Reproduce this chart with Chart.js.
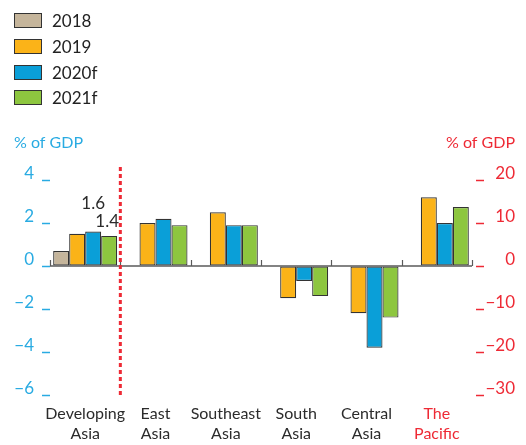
<!DOCTYPE html>
<html>
<head>
<meta charset="utf-8">
<script src="https://cdn.jsdelivr.net/npm/chart.js@4"></script>
<style>
  html, body { margin: 0; padding: 0; background: #ffffff; }
  #wrap { position: relative; width: 526px; height: 445px; }
  #legend { position: absolute; left: 14px; top: 8px; font-family: Lato, sans-serif; font-size: 17px; color: #222; }
  #legend .item { display: flex; align-items: center; height: 25.7px; }
  #legend .box { width: 28px; height: 15px; border: 1px solid #333; margin-right: 10px; box-sizing: border-box; }
</style>
</head>
<body>
<div id="wrap">
  <canvas id="c" width="526" height="445"></canvas>
  <div id="legend"></div>
</div>
<script>
// ---- data ----
const categories = [['Developing', 'Asia'], ['East', 'Asia'], ['Southeast', 'Asia'], ['South', 'Asia'], ['Central', 'Asia'], ['The', 'Pacific']];
const seriesNames = ['2018', '2019', '2020f', '2021f'];
// left axis (% of GDP), Asian subregions; null where not shown
const values2018 = [0.7, null, null, null, null, null];
const values2019 = [1.5, 2.0, 2.5, -1.5, -2.2, null];
const values2020 = [1.6, 2.2, 1.9, -0.7, -3.8, null];
const values2021 = [1.4, 1.9, 1.9, -1.4, -2.4, null];
// right axis (% of GDP), The Pacific
const pacific2019 = 16.0;
const pacific2020 = 10.0;
const pacific2021 = 13.7;
const leftTicks = [4, 2, 0, -2, -4, -6];
const rightTicks = [20, 10, 0, -10, -20, -30];
const annotated = [{ series: '2020f', index: 0, text: '1.6', dy: 28, dx: 0 }, { series: '2021f', index: 0, text: '1.4', dy: 14, dx: -2 }];

const colors = { '2018': '#c5b59b', '2019': '#fbb318', '2020f': '#0a9fd8', '2021f': '#8dc63f' };
const leftColor = '#29abe2';
const rightColor = '#ee2a35';
const textColor = '#2b2b2b';

const pacificOnly = v => categories.map((c, i) => i === categories.length - 1 ? v : null);

function ds(label, data, axis) {
  return {
    label: label, data: data, yAxisID: axis, stack: label,
    backgroundColor: colors[label], borderColor: '#333333', borderWidth: 1.2,
    borderSkipped: false
  };
}
const datasets = [
  ds('2018', values2018, 'y'),
  ds('2019', values2019, 'y'),
  ds('2020f', values2020, 'y'),
  ds('2021f', values2021, 'y'),
  ds('2019', pacificOnly(pacific2019), 'y2'),
  ds('2020f', pacificOnly(pacific2020), 'y2'),
  ds('2021f', pacificOnly(pacific2021), 'y2')
];

// HTML legend
const lg = document.getElementById('legend');
seriesNames.forEach(n => {
  const it = document.createElement('div'); it.className = 'item';
  const b = document.createElement('div'); b.className = 'box'; b.style.background = colors[n];
  const t = document.createElement('span'); t.textContent = n;
  it.appendChild(b); it.appendChild(t); lg.appendChild(it);
});

const extras = {
  id: 'extras',
  afterDatasetsDraw(chart) {
    const ctx = chart.ctx;
    const x = chart.scales.x, y = chart.scales.y;
    const ca = chart.chartArea;
    const y0 = y.getPixelForValue(0);
    ctx.save();
    // zero baseline
    ctx.strokeStyle = '#5a5a5a'; ctx.lineWidth = 1.5;
    ctx.beginPath(); ctx.moveTo(ca.left, y0); ctx.lineTo(ca.right, y0); ctx.stroke();
    // category boundary ticks
    ctx.lineWidth = 1.2;
    for (let i = 0; i <= categories.length; i++) {
      const px = Math.round(x.getPixelForValue(i - 0.5)) + 0.5;
      ctx.beginPath(); ctx.moveTo(px, y0); ctx.lineTo(px, y0 - 6); ctx.stroke();
    }
    // dashed divider between Developing Asia and the rest
    const dx = x.getPixelForValue(0.5);
    ctx.strokeStyle = '#ee2a35'; ctx.lineWidth = 3; ctx.setLineDash([4, 3]);
    ctx.beginPath(); ctx.moveTo(dx, y.getPixelForValue(4.6)); ctx.lineTo(dx, y.getPixelForValue(-6)); ctx.stroke();
    ctx.setLineDash([]);
    // value annotations
    ctx.fillStyle = textColor; ctx.font = '17px Lato, sans-serif';
    ctx.textAlign = 'center'; ctx.textBaseline = 'middle';
    annotated.forEach(a => {
      const di = chart.data.datasets.findIndex(d => d.label === a.series && d.yAxisID === 'y');
      const el = chart.getDatasetMeta(di).data[a.index];
      ctx.fillText(a.text, el.x + a.dx, el.y - a.dy);
    });
    // axis titles
    ctx.font = '16px Lato, sans-serif'; ctx.textBaseline = 'middle';
    ctx.fillStyle = leftColor; ctx.textAlign = 'left';
    ctx.fillText('% of GDP', 14, 143);
    ctx.fillStyle = rightColor; ctx.textAlign = 'right';
    ctx.fillText('% of GDP', 515, 143);
    ctx.restore();
  }
};

new Chart(document.getElementById('c'), {
  type: 'bar',
  data: { labels: categories, datasets: datasets },
  plugins: [extras],
  options: {
    responsive: false,
    animation: false,
    layout: { padding: { top: 180, right: 11, left: 0, bottom: 0 } },
    plugins: { legend: { display: false }, tooltip: { enabled: false } },
    datasets: { bar: { categoryPercentage: 0.91, barPercentage: 1.0 } },
    scales: {
      x: {
        stacked: true,
        grid: { display: false, drawTicks: false },
        border: { display: false },
        afterFit: s => { s.height = 50; },
        ticks: {
          font: { family: 'Lato, sans-serif', size: 16, lineHeight: 1.3 },
          color: c => c.index === categories.length - 1 ? rightColor : textColor,
          padding: 8, maxRotation: 0, autoSkip: false
        }
      },
      y: {
        position: 'left', stacked: false,
        min: -6, max: 4,
        afterBuildTicks: s => { s.ticks = leftTicks.map(v => ({ value: v })); },
        afterFit: s => { s.width = 50; },
        border: { display: false },
        grid: {
          drawOnChartArea: false, drawTicks: true, tickLength: 13,
          tickColor: leftColor, tickWidth: 1.5,
          tickBorderDash: [8, 5], tickBorderDashOffset: 8
        },
        ticks: {
          color: leftColor, font: { family: 'Lato, sans-serif', size: 17 },
          padding: 3, labelOffset: -6,
          callback: v => (v < 0 ? '\u2212' + Math.abs(v) : String(v))
        }
      },
      y2: {
        position: 'right', stacked: false,
        min: -30, max: 20,
        afterBuildTicks: s => { s.ticks = rightTicks.map(v => ({ value: v })); },
        afterFit: s => { s.width = 43; },
        border: { display: false },
        grid: {
          drawOnChartArea: false, drawTicks: true, tickLength: 12,
          tickColor: rightColor, tickWidth: 1.5,
          tickBorderDash: [8, 4], tickBorderDashOffset: 8
        },
        ticks: {
          color: rightColor, font: { family: 'Lato, sans-serif', size: 17 },
          padding: 3, labelOffset: -6, crossAlign: 'far',
          callback: v => (v < 0 ? '\u2212' + Math.abs(v) : String(v))
        }
      }
    }
  }
});
</script>
</body>
</html>
